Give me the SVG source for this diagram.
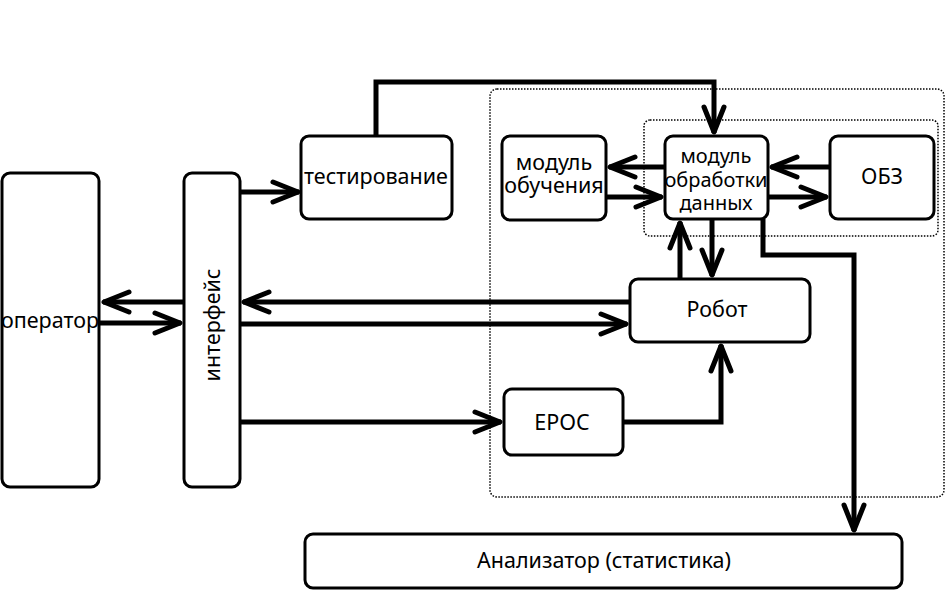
<svg xmlns="http://www.w3.org/2000/svg" width="946" height="603" viewBox="0 0 946 603">
<defs>
<style>
.box{fill:#fff;stroke:#000;stroke-width:3}
.dot{fill:none;stroke:#000;stroke-width:1.5;stroke-dasharray:1.5 1.5}
.t{font-family:"Noto Sans","Open Sans","DejaVu Sans",sans-serif;font-size:21.5px;fill:#000;text-anchor:middle}
.s{font-size:20px}
.c{fill:none;stroke:#000;stroke-width:5}
</style>
<marker id="a" markerUnits="userSpaceOnUse" markerWidth="40" markerHeight="30" viewBox="-32 -15 40 30" refX="0" refY="0" orient="auto">
<path d="M-26,-10 L-1,0 L-26,10" fill="none" stroke="#000" stroke-width="5" stroke-linecap="round" stroke-linejoin="round"/>
</marker>
</defs>
<rect width="946" height="603" fill="#fff"/>
<g id="containers">
<rect class="dot" x="490" y="89" width="454" height="408" rx="7"/>
<rect class="dot" x="644" y="120" width="294" height="116" rx="6"/>
</g>
<g id="connectors">
<path class="c" d="M240,192 H299" marker-end="url(#a)"/>
<path class="c" d="M376,136 V82 H714 V133" marker-end="url(#a)"/>
<path class="c" d="M184,302 H103" marker-end="url(#a)"/>
<path class="c" d="M100,323 H181" marker-end="url(#a)"/>
<path class="c" d="M630,302 H243" marker-end="url(#a)"/>
<path class="c" d="M240,324 H627" marker-end="url(#a)"/>
<path class="c" d="M240,422 H501" marker-end="url(#a)"/>
<path class="c" d="M623,422 H721 V345" marker-end="url(#a)"/>
<path class="c" d="M665,167 H609" marker-end="url(#a)"/>
<path class="c" d="M606,197 H662" marker-end="url(#a)"/>
<path class="c" d="M830,167 H771" marker-end="url(#a)"/>
<path class="c" d="M768,197 H827" marker-end="url(#a)"/>
<path class="c" d="M680,279 V222" marker-end="url(#a)"/>
<path class="c" d="M712,219 V276" marker-end="url(#a)"/>
<path class="c" d="M763,219 V255 H854 V531" marker-end="url(#a)"/>
</g>
<g id="operator">
<rect class="box" x="2" y="173" width="97" height="314" rx="8"/>
<text class="t" x="50" y="328">оператор</text>
</g>
<g id="interface">
<rect class="box" x="184" y="173" width="56" height="314" rx="8"/>
<text class="t" transform="translate(220,325) rotate(-90)">интерфейс</text>
</g>
<g id="testing">
<rect class="box" x="301" y="136" width="151" height="83" rx="8"/>
<text class="t" x="376" y="184">тестирование</text>
</g>
<g id="learning">
<rect class="box" x="502" y="136" width="104" height="84" rx="8"/>
<text class="t" x="554" y="170">модуль</text>
<text class="t" x="554" y="193">обучения</text>
</g>
<g id="processing">
<rect class="box" x="665" y="136" width="103" height="83" rx="8"/>
<text class="t s" x="716" y="163">модуль</text>
<text class="t s" x="716" y="187">обработки</text>
<text class="t s" x="716" y="210">данных</text>
</g>
<g id="obz">
<rect class="box" x="830" y="136" width="104" height="83" rx="8"/>
<text class="t" x="882" y="184">ОБЗ</text>
</g>
<g id="robot">
<rect class="box" x="630" y="279" width="180" height="63" rx="8"/>
<text class="t" x="717" y="317">Робот</text>
</g>
<g id="epoc">
<rect class="box" x="504" y="389" width="119" height="66" rx="8"/>
<text class="t" x="562" y="430">EPOC</text>
</g>
<g id="analyzer">
<rect class="box" x="305" y="534" width="597" height="54" rx="8"/>
<text class="t" x="604" y="568">Анализатор (статистика)</text>
</g>
</svg>
